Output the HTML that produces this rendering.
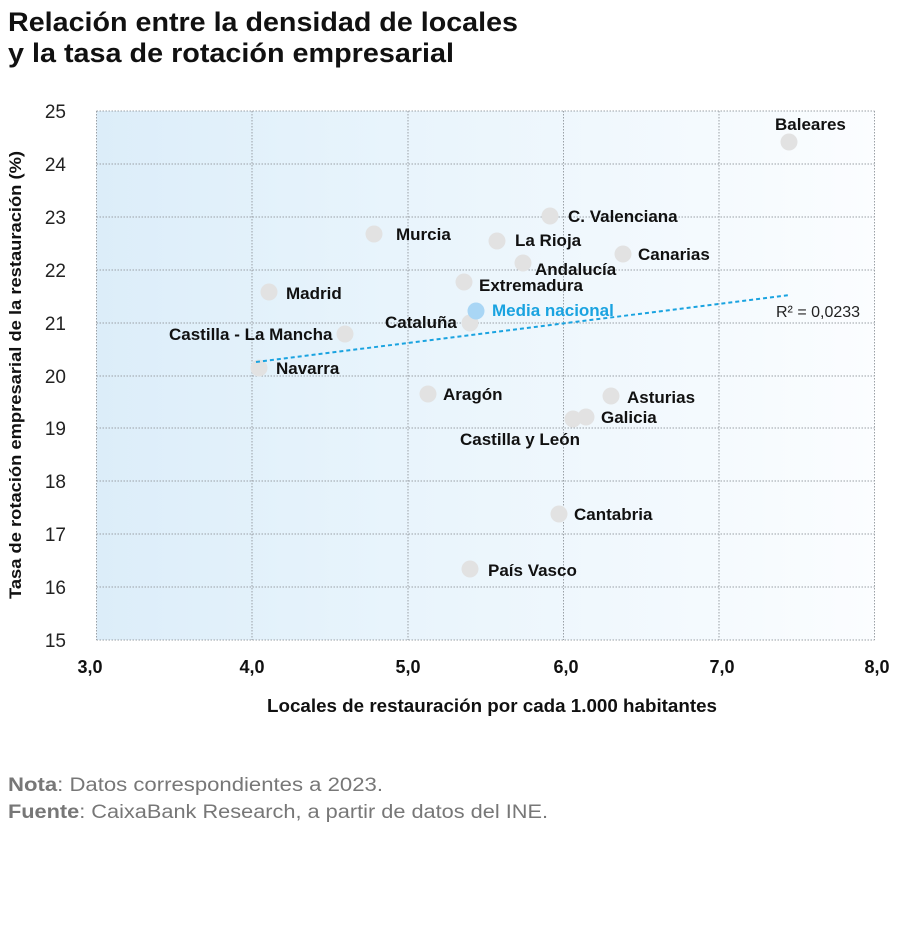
<!DOCTYPE html>
<html><head><meta charset="utf-8"><style>
html,body{margin:0;padding:0;background:#fff;}
svg{display:block;font-family:"Liberation Sans",sans-serif;}
.l{font-family:"Liberation Sans",sans-serif;font-weight:bold;font-size:17px;fill:#111;}
.t{font-family:"Liberation Sans",sans-serif;font-size:19px;fill:#222;}
</style></head><body>
<svg width="900" height="925" viewBox="0 0 900 925">
<defs><linearGradient id="bg" x1="0" x2="1" y1="0" y2="0">
<stop offset="0" stop-color="#dcedf9"/><stop offset="0.25" stop-color="#e4f2fb"/><stop offset="1" stop-color="#fbfdff"/></linearGradient></defs>
<text x="8" y="31" font-size="27" font-weight="bold" fill="#111" textLength="510" lengthAdjust="spacingAndGlyphs">Relación entre la densidad de locales</text>
<text x="8" y="62" font-size="27" font-weight="bold" fill="#111" textLength="446" lengthAdjust="spacingAndGlyphs">y la tasa de rotación empresarial</text>
<rect x="96.5" y="111" width="778" height="529" fill="url(#bg)"/>
<g stroke="#9aa0a6" stroke-width="1" stroke-dasharray="1.5,1.5" fill="none">
<line x1="96.5" y1="111" x2="874.5" y2="111"/><line x1="96.5" y1="164" x2="874.5" y2="164"/>
<line x1="96.5" y1="217" x2="874.5" y2="217"/><line x1="96.5" y1="270" x2="874.5" y2="270"/>
<line x1="96.5" y1="323" x2="874.5" y2="323"/><line x1="96.5" y1="376" x2="874.5" y2="376"/>
<line x1="96.5" y1="428" x2="874.5" y2="428"/><line x1="96.5" y1="481" x2="874.5" y2="481"/>
<line x1="96.5" y1="534" x2="874.5" y2="534"/><line x1="96.5" y1="587" x2="874.5" y2="587"/>
<line x1="96.5" y1="640" x2="874.5" y2="640"/>
<line x1="96.5" y1="111" x2="96.5" y2="640"/><line x1="252" y1="111" x2="252" y2="640"/>
<line x1="408" y1="111" x2="408" y2="640"/><line x1="563.5" y1="111" x2="563.5" y2="640"/>
<line x1="719" y1="111" x2="719" y2="640"/><line x1="874.5" y1="111" x2="874.5" y2="640"/>
</g>
<g class="t" text-anchor="end">
<text x="66" y="118">25</text><text x="66" y="171">24</text><text x="66" y="224">23</text>
<text x="66" y="277">22</text><text x="66" y="330">21</text><text x="66" y="383">20</text>
<text x="66" y="435">19</text><text x="66" y="488">18</text><text x="66" y="541">17</text>
<text x="66" y="594">16</text><text x="66" y="647">15</text>
</g>
<g class="l" text-anchor="middle" style="font-size:18px">
<text x="90" y="673">3,0</text><text x="252" y="673">4,0</text><text x="408" y="673">5,0</text>
<text x="566" y="673">6,0</text><text x="722" y="673">7,0</text><text x="877" y="673">8,0</text>
</g>
<text class="l" x="492" y="712" text-anchor="middle" textLength="450" lengthAdjust="spacingAndGlyphs" style="font-size:18px">Locales de restauración por cada 1.000 habitantes</text>
<text x="21" y="375" transform="rotate(-90 21 375)" text-anchor="middle" font-size="16.5" font-weight="bold" fill="#111" textLength="448" lengthAdjust="spacingAndGlyphs">Tasa de rotación empresarial de la restauración (%)</text>
<g fill="#e2e2e2">
<circle cx="789" cy="142" r="8.5"/><circle cx="550" cy="216" r="8.5"/><circle cx="374" cy="234" r="8.5"/>
<circle cx="497" cy="241" r="8.5"/><circle cx="623" cy="254" r="8.5"/><circle cx="523" cy="263" r="8.5"/>
<circle cx="464" cy="282" r="8.5"/><circle cx="269" cy="292" r="8.5"/><circle cx="470" cy="323" r="8.5"/>
<circle cx="345" cy="334" r="8.5"/><circle cx="259" cy="368" r="8.5"/><circle cx="428" cy="394" r="8.5"/>
<circle cx="611" cy="396" r="8.5"/><circle cx="586" cy="417" r="8.5"/><circle cx="573" cy="419" r="8.5"/>
<circle cx="559" cy="514" r="8.5"/><circle cx="470" cy="569" r="8.5"/>
</g>
<circle cx="476" cy="311" r="8.5" fill="#a9d6f5"/>
<line x1="256" y1="362" x2="790" y2="295" stroke="#1aa3e0" stroke-width="2" stroke-dasharray="4,3"/>
<g class="l">
<text x="775" y="130">Baleares</text><text x="568" y="222">C. Valenciana</text><text x="396" y="240">Murcia</text>
<text x="515" y="246">La Rioja</text><text x="638" y="260">Canarias</text><text x="535" y="275">Andalucía</text>
<text x="479" y="291">Extremadura</text><text x="286" y="299">Madrid</text>
<text x="385" y="328">Cataluña</text><text x="169" y="340">Castilla - La Mancha</text><text x="276" y="374">Navarra</text>
<text x="443" y="400">Aragón</text><text x="627" y="403">Asturias</text><text x="601" y="423">Galicia</text>
<text x="460" y="445">Castilla y León</text><text x="574" y="520">Cantabria</text><text x="488" y="576">País Vasco</text>
<text x="492" y="316" style="fill:#1aa3e0">Media nacional</text>
</g>
<text class="t" x="776" y="317" style="font-size:16px">R² = 0,0233</text>
<text x="8" y="791" font-size="19" fill="#777" textLength="375" lengthAdjust="spacingAndGlyphs"><tspan font-weight="bold">Nota</tspan>: Datos correspondientes a 2023.</text>
<text x="8" y="818" font-size="19" fill="#777" textLength="540" lengthAdjust="spacingAndGlyphs"><tspan font-weight="bold">Fuente</tspan>: CaixaBank Research, a partir de datos del INE.</text>
</svg>
</body></html>
